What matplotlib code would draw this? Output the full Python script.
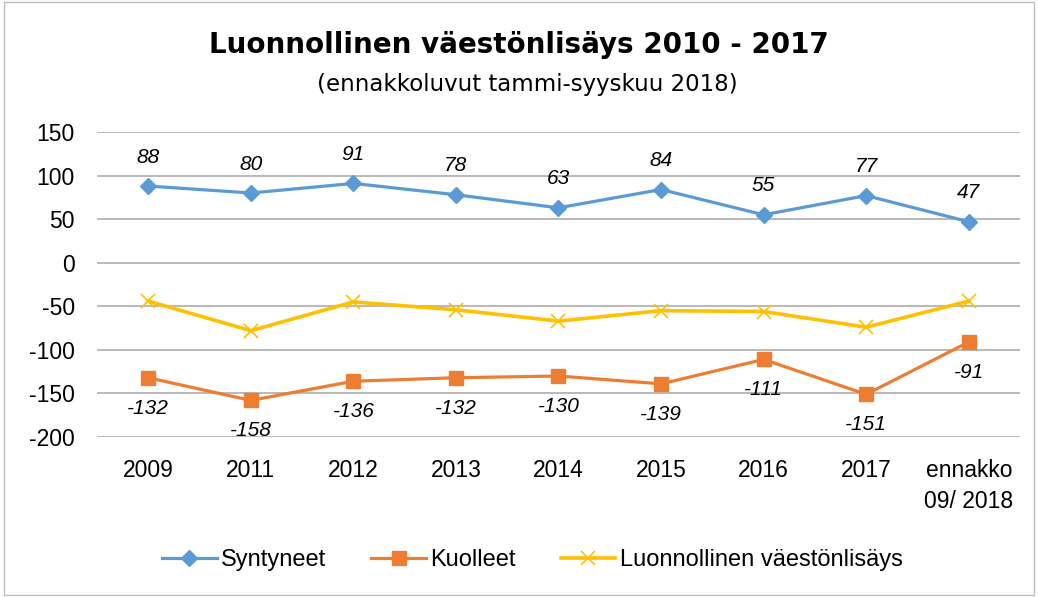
import matplotlib.pyplot as plt
from matplotlib.patches import Rectangle

plt.rcParams["axes.unicode_minus"] = False

categories = ["2009", "2011", "2012", "2013", "2014", "2015", "2016", "2017", "ennakko\n09/ 2018"]
syntyneet = [88, 80, 91, 78, 63, 84, 55, 77, 47]
kuolleet = [-132, -158, -136, -132, -130, -139, -111, -151, -91]
lisays = [-44, -78, -45, -54, -67, -55, -56, -74, -44]
yticks = [150, 100, 50, 0, -50, -100, -150, -200]

blue = "#5B9BD5"
orange = "#ED7D31"
yellow = "#FFC000"

fig = plt.figure(figsize=(10.38, 5.97), dpi=100)
ax = fig.add_axes([0.0934, 0.268, 0.8893, 0.5109])

x = list(range(len(categories)))
ax.plot(x, syntyneet, color=blue, lw=2.3, marker="D", ms=8, label="Syntyneet")
ax.plot(x, kuolleet, color=orange, lw=2.3, marker="s", ms=10, label="Kuolleet")
ax.plot(x, lisays, color=yellow, lw=2.6, marker="x", ms=10, mew=1.2, label="Luonnollinen väestönlisäys")

for xi, v in zip(x, syntyneet):
    ax.annotate(str(v), (xi, v), xytext=(0, 14), textcoords="offset points",
                ha="center", va="bottom", fontsize=15, style="italic", family="Liberation Sans")
for xi, v in zip(x, kuolleet):
    ax.annotate(str(v), (xi, v), xytext=(0, -15), textcoords="offset points",
                ha="center", va="top", fontsize=15, style="italic", family="Liberation Sans")

ax.set_xlim(-0.5, len(categories) - 0.5)
ax.set_ylim(-200, 150)
ax.set_yticks(yticks)
ax.set_xticks(x)
ax.set_xticklabels(categories, linespacing=1.45)
ax.tick_params(length=0, labelsize=16.5)
ax.tick_params(axis="y", pad=16)
ax.tick_params(axis="x", pad=16)
for lab in ax.get_xticklabels() + ax.get_yticklabels():
    lab.set_family("Liberation Sans")
ax.grid(axis="y", color="#A6A6A6", lw=1.1)
ax.set_axisbelow(True)
for s in ax.spines.values():
    s.set_visible(False)

fig.text(0.5, 0.925, "Luonnollinen väestönlisäys 2010 - 2017", ha="center", va="center",
         fontsize=20, weight="bold", family="DejaVu Sans")
fig.text(0.508, 0.858, "(ennakkoluvut tammi-syyskuu 2018)", ha="center", va="center",
         fontsize=16.5, family="DejaVu Sans")

leg = fig.legend(loc="center", bbox_to_anchor=(0.513, 0.062), ncol=3, frameon=False,
                 handlelength=2.3, columnspacing=1.9, handletextpad=0.2,
                 prop={"family": "Liberation Sans", "size": 17})

fig.patches.append(Rectangle((0.004, 0.004), 0.992, 0.992, transform=fig.transFigure,
                             fill=False, edgecolor="#BFBFBF", lw=1))

fig.savefig("out.png", dpi=100)
